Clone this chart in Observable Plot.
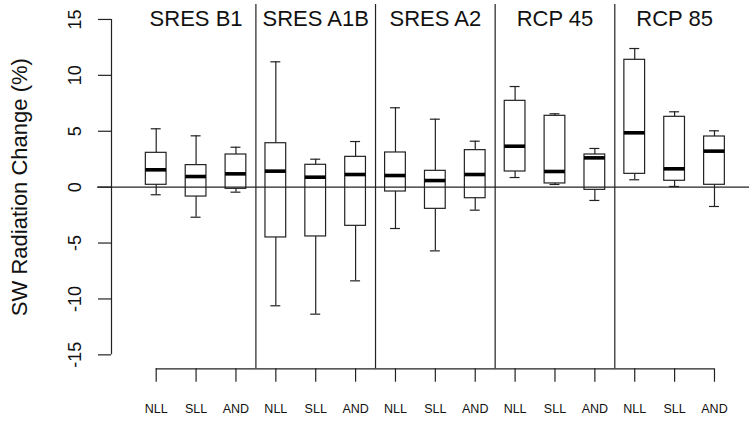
<!DOCTYPE html>
<html>
<head>
<meta charset="utf-8">
<script src="https://cdn.jsdelivr.net/npm/d3@7"></script>
<script src="https://cdn.jsdelivr.net/npm/@observablehq/plot@0.6"></script>
<style>
  html, body { margin: 0; padding: 0; background: #fff; }
  #chart svg { display: block; }
</style>
</head>
<body>
<div id="chart"></div>
<script>
// ---- data ----
const groups = ["SRES B1", "SRES A1B", "SRES A2", "RCP 45", "RCP 85"];
const regions = ["NLL", "SLL", "AND"];
const whiskerLow  = [-0.68, -2.69, -0.45, -10.61, -11.36, -8.38, -3.70, -5.70, -2.06, 0.86, 0.24, -1.19, 0.66, 0.06, -1.73];
const quart1      = [ 0.21, -0.84, -0.15,  -4.50,  -4.41, -3.46, -0.39, -1.94, -0.99, 1.40, 0.33, -0.24, 1.19, 0.57,  0.21];
const medians     = [ 1.55,  0.95,  1.19,   1.43,   0.89,  1.13,  1.04,  0.59,  1.13, 3.66, 1.40,  2.62, 4.86, 1.64,  3.22];
const quart3      = [ 3.07,  1.97,  2.92,   3.93,   2.00,  2.71,  3.10,  1.46,  3.31, 7.72, 6.38,  2.92, 11.39, 6.29, 4.53];
const whiskerHigh = [ 5.22,  4.59,  3.57,  11.21,   2.50,  4.08,  7.10,  6.08,  4.11, 9.00, 6.56,  3.46, 12.40, 6.74, 5.04];
const yTicks = [-15, -10, -5, 0, 5, 10, 15];
const yLabel = "SW Radiation Change (%)";

// ---- table built from the arrays ----
const rows = [];
groups.forEach((g, gi) => regions.forEach((r, ri) => {
  const k = gi * regions.length + ri;
  rows.push({i: k + 1, group: g, region: r, lo: whiskerLow[k], q1: quart1[k], med: medians[k], q3: quart3[k], hi: whiskerHigh[k]});
}));
const xIdx = rows.map(d => d.i);
const separators = groups.slice(1).map((g, k) => (k + 1) * regions.length + 0.5);
const groupCenters = groups.map((g, k) => ({name: g, x: k * regions.length + (regions.length + 1) / 2}));

const boxHalf = 0.26, capHalf = 0.125;
const ink = "#222";
const font = "Liberation Sans, Arial, Helvetica, sans-serif";
const xDomain = [-0.121, 15.878];
const yDomain = [-16.248, 16.337];

const chart = Plot.plot({
  width: 749,
  height: 422,
  marginLeft: 111,
  marginRight: 0,
  marginTop: 4,
  marginBottom: 53.7,
  style: {fontFamily: font, background: "white", color: ink},
  x: {domain: xDomain, axis: null},
  y: {domain: yDomain, axis: null},
  marks: [
    // whiskers
    Plot.ruleX(rows, {x: "i", y1: "lo", y2: "q1", stroke: ink, strokeWidth: 1.2}),
    Plot.ruleX(rows, {x: "i", y1: "q3", y2: "hi", stroke: ink, strokeWidth: 1.2}),
    // whisker caps
    Plot.ruleY(rows, {y: "lo", x1: d => d.i - capHalf, x2: d => d.i + capHalf, stroke: ink, strokeWidth: 1.2}),
    Plot.ruleY(rows, {y: "hi", x1: d => d.i - capHalf, x2: d => d.i + capHalf, stroke: ink, strokeWidth: 1.2}),
    // boxes
    Plot.rect(rows, {x1: d => d.i - boxHalf, x2: d => d.i + boxHalf, y1: "q1", y2: "q3", fill: "white", stroke: ink, strokeWidth: 1.2}),
    // medians
    Plot.ruleY(rows, {y: "med", x1: d => d.i - boxHalf, x2: d => d.i + boxHalf, stroke: "#000", strokeWidth: 3.6}),
    // zero line
    Plot.ruleY([0], {stroke: ink, strokeWidth: 1.2, insetLeft: -14}),
    // group separators
    Plot.ruleX(separators, {stroke: ink, strokeWidth: 1.2}),
    // group titles
    Plot.text(groupCenters, {x: "x", y: () => yTicks[yTicks.length - 1], text: "name", fontSize: 22, fill: "#111"}),
    // y axis
    Plot.ruleX([xDomain[0]], {y1: yTicks[0], y2: yTicks[yTicks.length - 1], stroke: ink, strokeWidth: 1.2}),
    Plot.axisY({ticks: yTicks, tickSize: 13, tickFormat: () => "", label: null, stroke: ink, strokeWidth: 1.2}),
    Plot.text(yTicks, {y: d => d, text: d => String(d), frameAnchor: "left", textAnchor: "middle", dx: -36, rotate: -90, fontSize: 18, lineAnchor: "middle", fill: "#111"}),
    Plot.text([yLabel], {y: () => 0, text: d => d, frameAnchor: "left", textAnchor: "middle", dx: -92, rotate: -90, fontSize: 22, lineAnchor: "middle", fill: "#111"}),
    // x axis
    Plot.ruleY([yDomain[0]], {x1: xIdx[0], x2: xIdx[xIdx.length - 1], stroke: ink, strokeWidth: 1.2}),
    Plot.axisX({ticks: xIdx, tickSize: 13.4, tickPadding: 22, tickFormat: i => rows[i - 1].region, label: null, fontSize: 12.5, stroke: ink, strokeWidth: 1.2, fill: "#111"})
  ]
});
document.getElementById("chart").appendChild(chart);
</script>
</body>
</html>
